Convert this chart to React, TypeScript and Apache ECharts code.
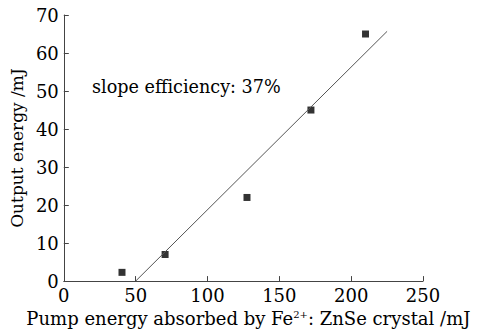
import React, { useEffect, useRef } from "react";
import * as echarts from "echarts";

const pumpEnergy = [40.5, 70.5, 127.5, 172, 210];
const outputEnergy = [2.3, 7, 22, 45, 65];
const fitX = [50, 225];
const fitY = [0, 65.7];
const xTicks = { min: 0, max: 250, interval: 50 };
const yTicks = { min: 0, max: 70, interval: 10 };

const FONT = "DejaVu Serif";

export default function App() {
  const ref = useRef<HTMLDivElement>(null);
  useEffect(() => {
    if (!ref.current) return;
    const chart = echarts.init(ref.current, null, { renderer: "svg" });
    chart.setOption({
      animation: false,
      grid: { left: 60, right: 61, top: 15, bottom: 48 },
      xAxis: {
        type: "value",
        min: xTicks.min,
        max: xTicks.max,
        interval: xTicks.interval,
        splitLine: { show: false },
        axisLine: { lineStyle: { color: "#444", width: 1 } },
        axisTick: { inside: true, length: 5, lineStyle: { color: "#444" } },
        axisLabel: { color: "#000", fontFamily: FONT, fontSize: 18, margin: 5 },
        name: "Pump energy absorbed by Fe{sup|2+}: ZnSe crystal /mJ",
        nameLocation: "middle",
        nameGap: 26,
        nameTextStyle: {
          color: "#000",
          fontFamily: FONT,
          fontSize: 18,
          padding: [0, 0, 0, 10],
          rich: {
            sup: { fontFamily: FONT, fontSize: 10, verticalAlign: "top", padding: [0, 0, 8, 0], color: "#000" },
          },
        },
      },
      yAxis: {
        type: "value",
        min: yTicks.min,
        max: yTicks.max,
        interval: yTicks.interval,
        splitLine: { show: false },
        axisLine: { show: true, lineStyle: { color: "#444", width: 1 } },
        axisTick: { show: true, inside: true, length: 5, lineStyle: { color: "#444" } },
        axisLabel: { color: "#000", fontFamily: FONT, fontSize: 18, margin: 5 },
        name: "Output energy /mJ",
        nameLocation: "middle",
        nameGap: 33,
        nameTextStyle: { color: "#000", fontFamily: FONT, fontSize: 17 },
      },
      graphic: [
        {
          type: "text",
          left: 92,
          top: 78,
          style: { text: "slope efficiency: 37%", fill: "#000", font: `17.6px "${FONT}"` },
        },
      ],
      series: [
        {
          type: "line",
          data: fitX.map((x, i) => [x, fitY[i]]),
          showSymbol: false,
          symbol: "none",
          lineStyle: { color: "#555", width: 1 },
          silent: true,
        },
        {
          type: "scatter",
          data: pumpEnergy.map((x, i) => [x, outputEnergy[i]]),
          symbol: "rect",
          symbolSize: 7,
          itemStyle: { color: "#000" },
        },
      ],
    });
    return () => chart.dispose();
  }, []);
  return <div ref={ref} style={{ width: 484, height: 332, position: "absolute", left: 0, top: 0, background: "#fff" }} />;
}
